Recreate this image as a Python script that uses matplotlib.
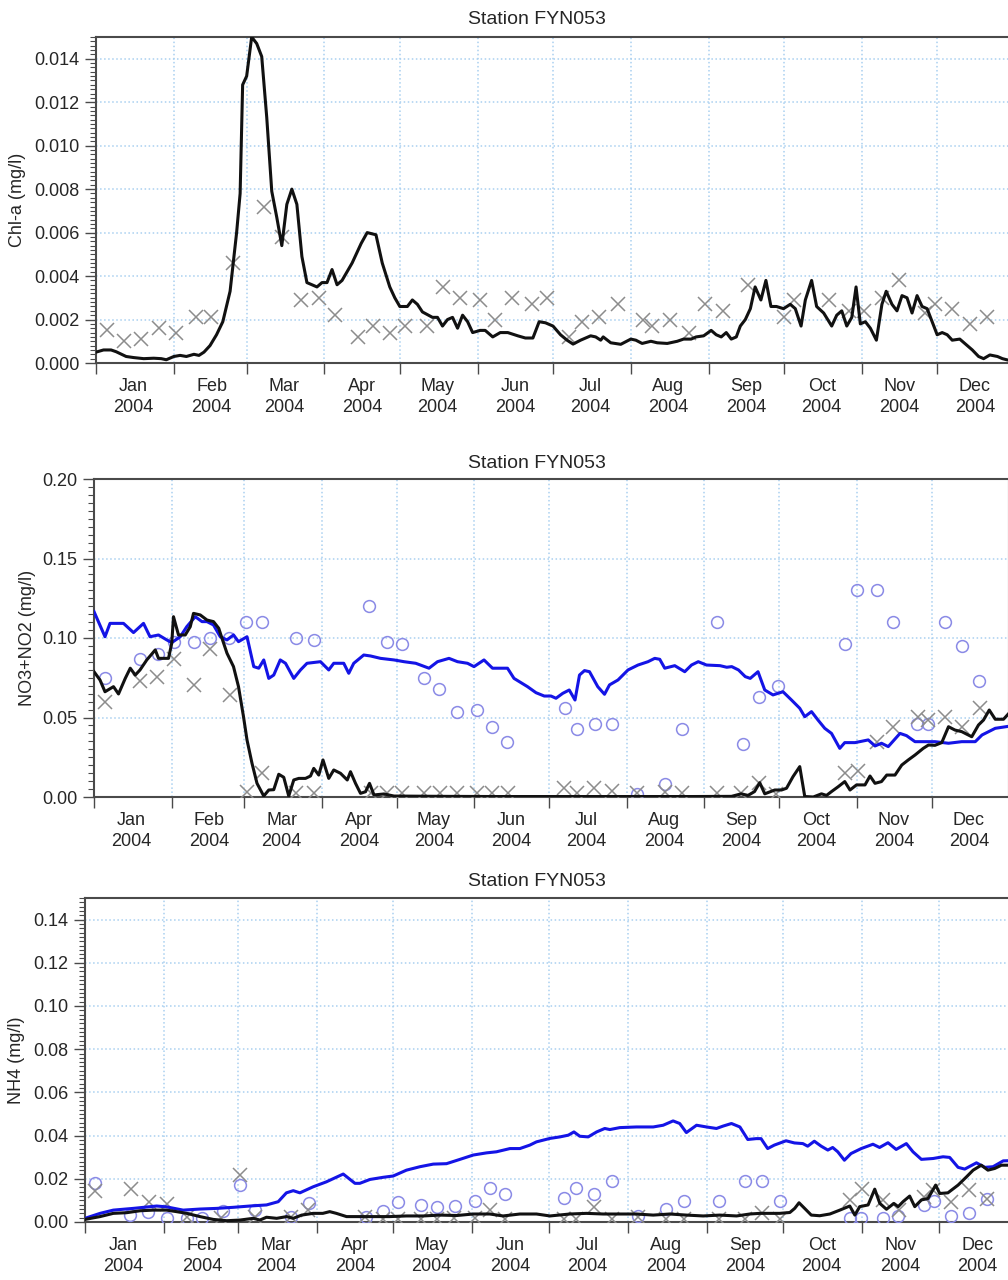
import numpy as np
import pandas as pd
import matplotlib
matplotlib.use("Agg")
import matplotlib.pyplot as plt
import matplotlib.dates as mdates
from matplotlib.ticker import MultipleLocator, FormatStrFormatter

plt.rcParams['font.family'] = ['Liberation Sans', 'DejaVu Sans']

TITLE = "Station FYN053"

# ---------------- Panel 1: Chl-a ----------------
chl_model_day = [0, 3, 6, 8, 12, 15, 19, 23, 26, 28, 31, 33.5, 36, 39, 41, 43, 45.4, 48, 50.5, 53.4,
                 56, 57.4, 58.4, 60, 62, 64, 66, 68, 70, 72, 74, 76, 78, 80, 82, 84, 88, 90, 92, 94,
                 96, 98, 102, 105.6, 108, 111.5, 114, 117, 119, 121, 124, 126, 128, 130, 134, 136, 138,
                 140, 142, 144, 146, 148, 150, 153, 155, 158, 161, 164, 168, 171, 174, 176.5, 179, 182,
                 185, 187.6, 190, 193, 197, 199, 201, 202, 205, 209, 213, 215, 217.5, 221, 223.5, 227.5,
                 231.5, 234, 237, 239, 242, 245, 247, 249, 251, 253, 255, 256.6, 258.6, 260.6, 262.5,
                 264.8, 266.8, 268.8, 271, 273.8, 276.5, 278.5, 280.8, 282.5, 285, 287, 289.8, 293, 295,
                 297, 299, 301, 302.7, 304.4, 306.4, 308.4, 310.8, 313, 314.7, 317, 319, 321, 323, 325,
                 327, 329, 331, 333, 335, 337, 339, 341, 344, 346, 349, 351.5, 353.5, 356, 359, 361, 363, 366]
chl_model_val = [0.0005, 0.0006, 0.0006, 0.00052, 0.0003, 0.00025, 0.0002, 0.00022, 0.0002, 0.00015,
                 0.0003, 0.00035, 0.0003, 0.0004, 0.00035, 0.0005, 0.0008, 0.0013, 0.0019, 0.0033,
                 0.0060, 0.0078, 0.0128, 0.0132, 0.0150, 0.0147, 0.0141, 0.0113, 0.0079, 0.0067, 0.0054,
                 0.0073, 0.0080, 0.0073, 0.0049, 0.0037, 0.0035, 0.0037, 0.0037, 0.0043, 0.0036, 0.0038,
                 0.0046, 0.0055, 0.0060, 0.0059, 0.0046, 0.0035, 0.0030, 0.0026, 0.0026, 0.0029, 0.0027,
                 0.00235, 0.0021, 0.0021, 0.0017, 0.0020, 0.0021, 0.0016, 0.0022, 0.0019, 0.0014, 0.0015,
                 0.0015, 0.0012, 0.0014, 0.0014, 0.00125, 0.00115, 0.00115, 0.0019, 0.00185, 0.0017,
                 0.0013, 0.00105, 0.00087, 0.00105, 0.00125, 0.0012, 0.00105, 0.0012, 0.00093, 0.00086,
                 0.0011, 0.00105, 0.0009, 0.0010, 0.00093, 0.0009, 0.0010, 0.0011, 0.0011, 0.0012,
                 0.00125, 0.0015, 0.0013, 0.0012, 0.0014, 0.0011, 0.0012, 0.0017, 0.0020, 0.0025, 0.0035,
                 0.0029, 0.0038, 0.0026, 0.0026, 0.0025, 0.0027, 0.0025, 0.0017, 0.0029, 0.0038, 0.0026,
                 0.0023, 0.0017, 0.0022, 0.0024, 0.0017, 0.0021, 0.0035, 0.0018, 0.0019, 0.0016, 0.00105,
                 0.0027, 0.0033, 0.0027, 0.0024, 0.0031, 0.0030, 0.0023, 0.0031, 0.0026, 0.0025, 0.0019,
                 0.0013, 0.0014, 0.0013, 0.00105, 0.0011, 0.0009, 0.0006, 0.0003, 0.0002, 0.00037,
                 0.0003, 0.0002, 0.00014, 0.0001]
chl_obs_day = [4.3, 11, 18, 25, 32, 40, 45.7, 54.7, 67, 74, 81.7, 89, 95, 104.5, 110.5, 117, 123, 132,
               138, 145, 153, 159, 165.6, 173.6, 179.6, 188.4, 193.5, 200.5, 207.7, 217.8, 221.6, 228.7,
               236, 242.6, 249.7, 259.5, 274, 277.8, 292, 300, 305.7, 313, 320, 330, 334, 341, 348, 355]
chl_obs_val = [0.0015, 0.0010, 0.0011, 0.0016, 0.0014, 0.0021, 0.0021, 0.0046, 0.0072, 0.0058, 0.0029,
               0.0030, 0.0022, 0.0012, 0.0017, 0.0014, 0.0017, 0.0017, 0.0035, 0.0030, 0.0029, 0.0020,
               0.0030, 0.0027, 0.0030, 0.0012, 0.0019, 0.0021, 0.0027, 0.0020, 0.0017, 0.0020, 0.0014,
               0.0027, 0.0024, 0.0036, 0.0021, 0.0029, 0.0029, 0.0024, 0.0024, 0.0030, 0.0038, 0.0023,
               0.0027, 0.0025, 0.0018, 0.0021]

# ---------------- Panel 2: NO3+NO2 ----------------
no3_blue_day = [0, 4.4, 6.4, 11.8, 15.8, 19.8, 22.4, 25.8, 29.1, 31.1, 34.5, 37.1, 40.5, 43.2, 45.2,
                47.8, 50.5, 53.2, 55.8, 57.8, 61.2, 63.9, 65.9, 67.9, 69.9, 71.9, 74.5, 76.6, 79.9, 82.6,
                85.2, 90.6, 93.9, 95.9, 99.9, 101.9, 103.9, 107.9, 110.6, 114.6, 120, 124, 128.7, 134,
                137.4, 142, 145.4, 149.4, 152, 156, 159.4, 165.4, 168, 173.4, 176.8, 180.1, 182.8, 184.8,
                187.5, 190.1, 192.4, 194.2, 196.2, 198.2, 201.5, 204.2, 206.2, 209.6, 213.6, 217.6,
                221.6, 224.3, 226.3, 228.3, 232.3, 236.3, 239, 241.7, 245, 250.4, 253.1, 255.1, 257.8,
                260.5, 262.5, 265.6, 268.3, 271.6, 275.6, 279, 282.3, 284.3, 287, 289.6, 292.3, 295,
                298.3, 300.3, 304.4, 309.7, 312.4, 315, 317.7, 322.4, 325, 328.4, 336.4, 341.8, 347.1,
                352.5, 355.2, 360.5, 366]
no3_blue_val = [0.1166, 0.1008, 0.1092, 0.1092, 0.1034, 0.1092, 0.1008, 0.1019, 0.0988, 0.0971, 0.1008,
                0.1071, 0.1134, 0.1103, 0.1103, 0.1082, 0.1008, 0.0988, 0.1019, 0.0977, 0.1008, 0.0820,
                0.0810, 0.0862, 0.0746, 0.0767, 0.0862, 0.0841, 0.0746, 0.0799, 0.0841, 0.0851, 0.0799,
                0.0841, 0.0841, 0.0778, 0.0841, 0.0893, 0.0887, 0.0872, 0.0862, 0.0851, 0.0841, 0.0810,
                0.0851, 0.0872, 0.0851, 0.0841, 0.0820, 0.0862, 0.0810, 0.0810, 0.0746, 0.0694, 0.0656,
                0.0635, 0.0635, 0.0621, 0.0652, 0.0673, 0.0610, 0.0767, 0.0795, 0.0788, 0.0694, 0.0646,
                0.0705, 0.0736, 0.0799, 0.0830, 0.0851, 0.0872, 0.0866, 0.0810, 0.0826, 0.0788, 0.0830,
                0.0851, 0.0830, 0.0826, 0.0816, 0.0820, 0.0799, 0.0757, 0.0746, 0.0788, 0.0673, 0.0642,
                0.0662, 0.0610, 0.0558, 0.0505, 0.0537, 0.0484, 0.0432, 0.0400, 0.0306, 0.0342, 0.0342,
                0.0359, 0.0321, 0.0338, 0.0317, 0.0400, 0.0386, 0.0348, 0.0348, 0.0338, 0.0348, 0.0348,
                0.0390, 0.0432, 0.0445]
no3_black_day = [0, 2.4, 4.4, 7.8, 9.8, 12.5, 14.5, 16.5, 18.4, 21.1, 24.5, 25.8, 29.8, 31.1, 31.8, 33.8,
                 36.5, 38.5, 39.8, 42.5, 45.2, 47.8, 49.9, 51.2, 53.2, 55.8, 57.8, 59.8, 61.2, 63.2,
                 65.2, 67.9, 69.9, 71.9, 73.9, 75.9, 77.9, 79.9, 81.9, 84.6, 86.6, 87.9, 89.9, 91.6,
                 93.9, 95.9, 98.6, 101.3, 102.6, 104.6, 106.6, 108.6, 110.2, 112, 116, 120, 140, 160,
                 180, 200, 220, 240, 255, 258.9, 261.6, 264.2, 266.3, 268.3, 272.3, 275, 277, 279.6,
                 282.3, 284.3, 287.7, 291, 293, 295, 297.7, 300.3, 302.4, 305, 308.4, 310.4, 312.4, 315,
                 317.1, 320.4, 323.1, 325.7, 328.4, 331.7, 333.8, 336.4, 339.1, 341.8, 344.4, 347.1,
                 351.1, 353.8, 355.8, 358.1, 360.5, 363.8, 366]
no3_black_val = [0.0788, 0.0736, 0.0662, 0.0694, 0.0648, 0.0746, 0.0810, 0.0767, 0.0799, 0.0862, 0.0925,
                 0.0872, 0.0872, 0.0967, 0.1134, 0.1019, 0.1019, 0.1071, 0.1155, 0.1145, 0.1113, 0.1103,
                 0.1061, 0.0998, 0.0904, 0.0820, 0.0694, 0.0505, 0.0359, 0.0212, 0.0086, 0.0006, 0.0044,
                 0.0046, 0.0143, 0.0124, 0.0006, 0.0107, 0.0117, 0.0117, 0.0132, 0.0180, 0.0138, 0.0233,
                 0.0117, 0.0170, 0.0149, 0.0107, 0.0159, 0.0086, 0.0023, 0.0033, 0.0086, 0.0013, 0.0019,
                 0.0006, 0.0004, 0.0003, 0.0003, 0.0003, 0.0003, 0.0003, 0.0004, 0.0020, 0.0010, 0.0034,
                 0.0090, 0.0020, 0.0044, 0.0044, 0.0055, 0.0128, 0.0191, 0.0003, 0.0000, 0.0020, 0.0010,
                 0.0034, 0.0065, 0.0097, 0.0044, 0.0076, 0.0076, 0.0132, 0.0086, 0.0097, 0.0138, 0.0138,
                 0.0201, 0.0233, 0.0264, 0.0306, 0.0327, 0.0325, 0.0342, 0.0442, 0.0421, 0.0411, 0.0379,
                 0.0453, 0.0484, 0.0547, 0.0489, 0.0489, 0.0527]
no3_circ_day = [4.2, 18.3, 25.4, 32.1, 40.1, 46.2, 53.8, 60.9, 67.2, 80.9, 87.9, 109.9, 117.3, 123.3,
                132, 138, 145, 153.1, 159, 165.1, 188.4, 193.2, 200.2, 207.2, 217.3, 228.3, 235.3, 249.3,
                259.4, 266, 273.4, 300.4, 305.1, 313.1, 319.4, 329.2, 333.6, 340.5, 347.2, 354.1]
no3_circ_val = [0.0750, 0.0868, 0.0900, 0.0973, 0.0973, 0.1002, 0.1002, 0.1103, 0.1103, 0.1002, 0.0988,
                0.1203, 0.0977, 0.0962, 0.0746, 0.0677, 0.0537, 0.0547, 0.0438, 0.0348, 0.0558, 0.0428,
                0.0459, 0.0459, 0.0017, 0.0082, 0.0428, 0.1103, 0.0331, 0.0631, 0.0698, 0.0960, 0.1302,
                0.1302, 0.1103, 0.0459, 0.0459, 0.1103, 0.0950, 0.0730]
no3_x_day = [4.2, 18.3, 25.2, 32.1, 40.1, 46.2, 54.2, 61.2, 67.2, 80.9, 87.9, 110.6, 117.3, 123.3, 132,
             138.4, 145, 153.1, 159, 165.4, 188.1, 193.2, 200.1, 207.2, 217.2, 228.2, 235.1, 249.3,
             258.9, 265.9, 272.9, 300.3, 305.4, 313, 319.7, 329.4, 333.4, 340.4, 347.1, 354.2]
no3_x_val = [0.0600, 0.0732, 0.0753, 0.0868, 0.0705, 0.0929, 0.0642, 0.0034, 0.0149, 0.0027, 0.0025,
             0.0023, 0.0023, 0.0023, 0.0025, 0.0025, 0.0025, 0.0025, 0.0025, 0.0025, 0.0055, 0.0023,
             0.0055, 0.0040, 0.0023, 0.0034, 0.0023, 0.0025, 0.0027, 0.0090, 0.0017, 0.0153, 0.0164,
             0.0348, 0.0442, 0.0505, 0.0484, 0.0505, 0.0442, 0.0558]

# ---------------- Panel 3: NH4 ----------------
nh4_blue_day = [0, 5.9, 11.1, 18.9, 28.1, 32, 38.5, 45.1, 51.6, 58.2, 64.7, 71.2, 75.8, 79, 81.7, 84.3,
                89.5, 94.7, 101.3, 105.9, 107.8, 111.8, 117, 120.9, 126.1, 131.4, 136.6, 141.8, 147.1,
                152.3, 157.5, 161.4, 166.7, 170.6, 174.5, 177.1, 182.4, 186.3, 189.6, 191.8, 194.1,
                197.4, 200.7, 203.9, 205.9, 209.8, 216.3, 222.9, 226.8, 230.7, 233.3, 235.9, 239.9,
                243.8, 247.7, 250.3, 253.6, 256.9, 260, 263.3, 265.2, 267.8, 270.4, 275, 278.3, 281.6,
                283.5, 286.1, 288.8, 291.4, 293.3, 295.3, 297.9, 300.5, 304.5, 309.1, 311.7, 315, 318.2,
                322.2, 324.8, 328.1, 332.7, 336.6, 339.2, 342.5, 345.1, 349.7, 353, 356.2, 360.2, 366]
nh4_blue_val = [0.0017, 0.0040, 0.0055, 0.0063, 0.0074, 0.0070, 0.0055, 0.0060, 0.0063, 0.0068, 0.0074,
                0.0079, 0.0094, 0.0135, 0.0145, 0.0135, 0.0163, 0.0186, 0.0222, 0.0179, 0.0179, 0.0197,
                0.0207, 0.0213, 0.0240, 0.0256, 0.0268, 0.0270, 0.0290, 0.0310, 0.0320, 0.0325, 0.0340,
                0.0340, 0.0356, 0.0371, 0.0387, 0.0394, 0.0402, 0.0417, 0.0397, 0.0394, 0.0417, 0.0433,
                0.0428, 0.0437, 0.0440, 0.0440, 0.0448, 0.0468, 0.0456, 0.0414, 0.0448, 0.0440, 0.0433,
                0.0444, 0.0456, 0.0440, 0.0382, 0.0386, 0.0386, 0.0340, 0.0356, 0.0376, 0.0366, 0.0363,
                0.0351, 0.0374, 0.0351, 0.0333, 0.0345, 0.0325, 0.0286, 0.0317, 0.0340, 0.0360, 0.0345,
                0.0367, 0.0336, 0.0363, 0.0325, 0.0290, 0.0294, 0.0302, 0.0299, 0.0253, 0.0245, 0.0274,
                0.0253, 0.0256, 0.0283, 0.0285]
nh4_black_day = [0, 5.9, 11.1, 16.3, 21.6, 26.8, 32, 35.9, 39.9, 45.1, 50.3, 55.6, 60.8, 66, 68.6, 71.2,
                 75.2, 79.1, 81.7, 85, 89.5, 93.3, 96, 98.6, 102.6, 107.8, 113, 119.5, 126.1, 132.7,
                 139.2, 145.8, 152.3, 158.8, 164, 170.6, 177.1, 182.4, 190.2, 196.7, 203.3, 209.8, 216.3,
                 222.9, 229.4, 235.9, 242.5, 249, 255.6, 260.8, 264.7, 272.5, 276.5, 278.4, 280.1, 282.3,
                 284.9, 288.2, 292.2, 296.1, 300, 302, 303.9, 307.2, 309.8, 311.8, 314.4, 317.3, 319,
                 320.9, 323.5, 325.5, 328.1, 330.7, 333.7, 335.3, 338.5, 342.5, 345.8, 348.4, 351.6,
                 354.2, 356.9, 359.5, 362, 366]
nh4_black_val = [0.0012, 0.0025, 0.0040, 0.0043, 0.0052, 0.0055, 0.0055, 0.0048, 0.0040, 0.0025, 0.0012,
                 0.0006, 0.0009, 0.0017, 0.0009, 0.0022, 0.0017, 0.0025, 0.0017, 0.0032, 0.0040, 0.0040,
                 0.0048, 0.0040, 0.0025, 0.0025, 0.0025, 0.0025, 0.0028, 0.0028, 0.0032, 0.0030, 0.0037,
                 0.0037, 0.0028, 0.0037, 0.0037, 0.0028, 0.0037, 0.0040, 0.0037, 0.0037, 0.0037, 0.0032,
                 0.0037, 0.0032, 0.0028, 0.0032, 0.0028, 0.0037, 0.0040, 0.0040, 0.0044, 0.0063, 0.0089,
                 0.0063, 0.0032, 0.0029, 0.0037, 0.0055, 0.0074, 0.0032, 0.0071, 0.0079, 0.0152, 0.0086,
                 0.0059, 0.0086, 0.0071, 0.0094, 0.0120, 0.0071, 0.0102, 0.0109, 0.0171, 0.0132, 0.0135,
                 0.0171, 0.0209, 0.0240, 0.0263, 0.0240, 0.0248, 0.0263, 0.0263, 0.0275]
nh4_circ_day = [3.9, 17.6, 24.8, 32.3, 39.9, 45.8, 54, 60.8, 66.7, 81, 87.9, 110.2, 117, 122.9, 132,
                137.9, 145.1, 152.9, 158.8, 164.7, 187.9, 192.8, 199.7, 206.9, 216.9, 228, 234.8, 248.7,
                258.8, 265.7, 272.8, 300, 304.6, 312.9, 319, 329.2, 333.1, 339.9, 346.8, 353.9]
nh4_circ_val = [0.0182, 0.0032, 0.0048, 0.0017, 0.0017, 0.0017, 0.0052, 0.0171, 0.0055, 0.0025, 0.0086,
                0.0025, 0.0052, 0.0094, 0.0079, 0.0071, 0.0074, 0.0097, 0.0156, 0.0128, 0.0109, 0.0159,
                0.0128, 0.0189, 0.0029, 0.0059, 0.0097, 0.0097, 0.0188, 0.0188, 0.0097, 0.0020, 0.0020,
                0.0020, 0.0029, 0.0079, 0.0097, 0.0029, 0.0043, 0.0106]
nh4_x_day = [3.9, 17.9, 25.1, 32, 39.9, 53.4, 60.8, 66.7, 81, 87.6, 109.8, 117, 122.9, 132, 137.9, 144.7,
             152.9, 158.8, 164.9, 187.9, 192.5, 199.7, 206.9, 216.9, 228, 234.8, 248.7, 258.8, 265.7,
             272.8, 300, 304.9, 312.9, 319.4, 329.2, 332.7, 339.9, 346.8, 353.9]
nh4_x_val = [0.0145, 0.0151, 0.0094, 0.0082, 0.0025, 0.0017, 0.0217, 0.0025, 0.0025, 0.0055, 0.0022,
             0.0012, 0.0012, 0.0012, 0.0012, 0.0017, 0.0017, 0.0055, 0.0012, 0.0012, 0.0012, 0.0071,
             0.0012, 0.0025, 0.0012, 0.0012, 0.0012, 0.0012, 0.0043, 0.0012, 0.0102, 0.0151, 0.0102,
             0.0055, 0.0117, 0.0148, 0.0094, 0.0148, 0.0106]

YLABELS = ["Chl-a (mg/l)", "NO3+NO2 (mg/l)", "NH4 (mg/l)"]
YLIMS = [(0, 0.015), (0, 0.20), (0, 0.15)]
YMAJOR = [0.002, 0.05, 0.02]
YFMT = ["%.3f", "%.2f", "%.2f"]

BASE = pd.Timestamp("2004-01-01")


def to_dates(days):
    return BASE + pd.to_timedelta(np.asarray(days, dtype=float), unit="D")


BLACK = "#111111"
BLUE = "#1414e6"
CIRC = "#8a8ae6"
XGRAY = "#8c8c8c"
GRID = "#a9d0f0"
SPINE = "#4a4a4a"
TXT = "#262626"

fig = plt.figure(figsize=(10.08, 12.8), dpi=100)

# pixel geometry: (left, right, top, bottom)
geo = [(96, 1015, 37, 363), (94, 1009, 479, 797), (85, 1018, 898, 1222)]
title_y = [20, 463, 882]
ylab_x = [18, 28, 17]

axes = []
for i, (l, r, t, b) in enumerate(geo):
    ax = fig.add_axes([l / 1008, 1 - b / 1280, (r - l) / 1008, (b - t) / 1280])
    axes.append(ax)

panels = [
    dict(lines=[(chl_model_day, chl_model_val, BLACK)],
         x=(chl_obs_day, chl_obs_val), o=None),
    dict(lines=[(no3_blue_day, no3_blue_val, BLUE), (no3_black_day, no3_black_val, BLACK)],
         x=(no3_x_day, no3_x_val), o=(no3_circ_day, no3_circ_val)),
    dict(lines=[(nh4_blue_day, nh4_blue_val, BLUE), (nh4_black_day, nh4_black_val, BLACK)],
         x=(nh4_x_day, nh4_x_val), o=(nh4_circ_day, nh4_circ_val)),
]

for i, ax in enumerate(axes):
    p = panels[i]
    if p["o"] is not None:
        ax.plot(to_dates(p["o"][0]), p["o"][1], linestyle="none", marker="o", ms=8.5,
                mfc="none", mec=CIRC, mew=1.1, zorder=3)
    ax.plot(to_dates(p["x"][0]), p["x"][1], linestyle="none", marker="x", ms=10,
            mec=XGRAY, mew=1.1, zorder=3)
    for d, v, c in p["lines"]:
        ax.plot(to_dates(d), v, color=c, lw=2.2, zorder=4, solid_joinstyle="round")

    ax.set_xlim(pd.Timestamp("2004-01-01"), pd.Timestamp("2005-01-01"))
    ax.set_ylim(*YLIMS[i])
    ax.yaxis.set_major_locator(MultipleLocator(YMAJOR[i]))
    ax.yaxis.set_minor_locator(MultipleLocator(YMAJOR[i] / 10))
    ax.yaxis.set_major_formatter(FormatStrFormatter(YFMT[i]))

    ax.xaxis.set_major_locator(mdates.MonthLocator())
    ax.xaxis.set_major_formatter(plt.NullFormatter())
    ax.xaxis.set_minor_locator(mdates.MonthLocator(bymonthday=16))
    ax.xaxis.set_minor_formatter(mdates.DateFormatter("%b\n%Y"))

    ax.tick_params(axis="y", which="major", direction="out", length=8, width=1,
                   color=SPINE, labelsize=13, labelcolor=TXT, pad=4)
    ax.tick_params(axis="y", which="minor", direction="out", length=4, width=0.8, color=SPINE)
    ax.tick_params(axis="x", which="major", direction="out", length=8, width=1, color=SPINE)
    ax.tick_params(axis="x", which="minor", length=0, labelsize=13, labelcolor=TXT, pad=11)
    for lab in ax.xaxis.get_minorticklabels():
        lab.set_linespacing(1.32)

    ax.grid(True, which="major", axis="both", color=GRID, linestyle=":", linewidth=1.1, zorder=0)
    ax.set_axisbelow(True)
    for s in ax.spines.values():
        s.set_color(SPINE)
        s.set_linewidth(1.5)

    l, r, t, b = geo[i]
    fig.text(537 / 1008, 1 - title_y[i] / 1280, TITLE, ha="center", va="center",
             fontsize=14, color=TXT)
    fig.text(ylab_x[i] / 1008, 1 - ((t + b) / 2) / 1280, YLABELS[i], rotation=90,
             ha="center", va="center", fontsize=13, color=TXT)

fig.savefig("out.png", dpi=100)
